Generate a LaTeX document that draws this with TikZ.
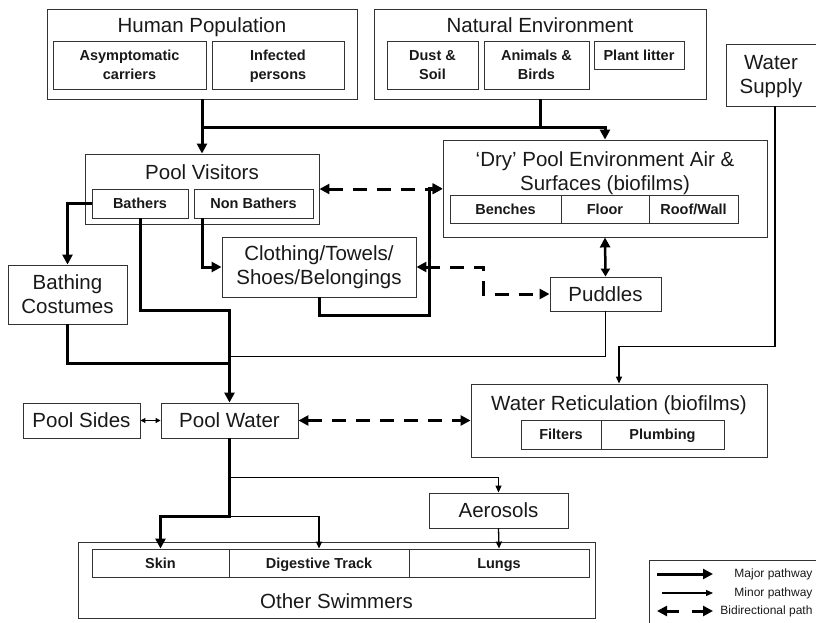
\documentclass[tikz,border=0pt]{standalone}
\usepackage{fontspec}
\setmainfont{Liberation Sans}
\usetikzlibrary{arrows.meta}

\tikzset{
  box/.style={draw=black!80, line width=0.9pt, inner sep=0pt},
  big/.style={font=\fontsize{20.5}{24}\selectfont, align=center, text=black!90},
  small/.style={font=\fontsize{14.5}{19}\selectfont\bfseries, align=center, text=black!90},
  oneline/.style={text height=11.5pt, text depth=1pt},
  bigline/.style={text height=16pt, text depth=1.3pt},
  note/.style={font=\fontsize{12}{14}\selectfont, text=black!90},
  major/.style={line width=3pt, -{Triangle[length=10pt,width=10pt]}},
  minor/.style={line width=1.3pt, -{Triangle[length=7pt,width=6pt]}},
  bidir/.style={line width=3pt, dash pattern=on 14pt off 10pt,
    {Triangle[length=10pt,width=10pt]}-{Triangle[length=10pt,width=10pt]}},
  joinline/.style={line width=3pt},
  thinline/.style={line width=1.3pt},
}

\begin{document}
\begin{tikzpicture}[x=1pt, y=-1pt]
    \useasboundingbox (0,0) rectangle (816,623);

    % Human population
    \node[box, minimum width=310pt, minimum height=90pt] (hp) at (202,54) {};
    \node[big, anchor=base] (hptitle) at (202,33) {Human Population};
    \node[box, small, minimum width=153pt, minimum height=48pt] (asym) at (129.5,65) {Asymptomatic\\carriers};
    \node[box, small, text depth=0.2pt, minimum width=132pt, minimum height=48pt] (infected) at (278,65) {Infected\\persons};

    % Natural environment
    \node[box, minimum width=332pt, minimum height=90pt] (ne) at (540,54) {};
    \node[big, anchor=base] (netitle) at (540,33) {Natural Environment};
    \node[box, small, minimum width=91pt, minimum height=48pt] (dust) at (432.5,65) {Dust \&\\Soil};
    \node[box, small, minimum width=105pt, minimum height=48pt] (animals) at (536.5,65) {Animals \&\\Birds};
    \node[box, small, oneline, minimum width=90pt, minimum height=28pt] (plant) at (639,55) {Plant litter};

    % Water supply
    \node[box, minimum width=92pt, minimum height=62pt] (ws) at (772,75) {};
    \node[big, text depth=0.3pt] (wstext) at (771,75) {Water\\Supply};

    % Pool visitors
    \node[box, minimum width=234pt, minimum height=70pt] (pv) at (202,189) {};
    \node[big, anchor=base] (pvtitle) at (202,179) {Pool Visitors};
    \node[box, small, oneline, minimum width=96pt, minimum height=29pt] (bath) at (140,203.5) {Bathers};
    \node[box, small, oneline, minimum width=119pt, minimum height=29pt] (nonb) at (253.5,203.5) {Non Bathers};

    % Dry pool environment
    \node[box, minimum width=324pt, minimum height=97pt] (dry) at (605,188.5) {};
    \node[big, anchor=base] (drytitle) at (605,166) {`Dry' Pool Environment Air \&};
    \node[big, anchor=base] (drytitleb) at (605,190) {Surfaces (biofilms)};
    \node[box, small, oneline, minimum width=111pt, minimum height=28pt] (benches) at (505.5,209) {Benches};
    \node[box, small, oneline, minimum width=88pt, minimum height=28pt] (floor) at (605,209) {Floor};
    \node[box, small, oneline, minimum width=89pt, minimum height=28pt] (roof) at (693.5,209) {Roof/Wall};

    % Middle boxes
    \node[box, big, minimum width=194pt, minimum height=60pt] (cloth) at (319,267) {Clothing/Towels/\\Shoes/Belongings};
    \node[box, big, minimum width=119pt, minimum height=59pt] (cost) at (67.5,294.5) {Bathing\\Costumes};
    \node[box, big, bigline, minimum width=111pt, minimum height=34pt] (pud) at (605.5,294) {Puddles};
    \node[box, big, bigline, minimum width=117pt, minimum height=35pt] (sides) at (81.5,420.5) {Pool Sides};
    \node[box, big, bigline, minimum width=137pt, minimum height=35pt] (pw) at (229.5,420.5) {Pool Water};

    % Water reticulation
    \node[box, minimum width=296pt, minimum height=73pt] (wr) at (619,420.5) {};
    \node[big, anchor=base] (wrtitle) at (619,410) {Water Reticulation (biofilms)};
    \node[box, small, oneline, minimum width=80pt, minimum height=29pt] (filt) at (561,434.5) {Filters};
    \node[box, small, oneline, minimum width=123pt, minimum height=29pt] (plumb) at (662.5,434.5) {Plumbing};

    % Aerosols and other swimmers
    \node[box, big, bigline, minimum width=139pt, minimum height=35pt] (aer) at (498.5,510.5) {Aerosols};
    \node[box, minimum width=517pt, minimum height=76pt] (os) at (336.5,580) {};
    \node[big, anchor=base] (ostitle) at (336.5,608) {Other Swimmers};
    \node[box, small, oneline, minimum width=137pt, minimum height=28pt] (skin) at (160.5,563) {Skin};
    \node[box, small, oneline, minimum width=180pt, minimum height=28pt] (dig) at (319,563) {Digestive Track};
    \node[box, small, oneline, minimum width=180pt, minimum height=28pt] (lungs) at (499,563) {Lungs};

    % Sources to pool visitors and dry environment
    \draw[major] (hp.south) -- (pv.north);
    \draw[major] (ne.south) -- ++(0,28) coordinate (nejoin) -| (dry.north);
    \draw[joinline] (hp.south |- nejoin) -- (nejoin);
    \draw[bidir] (pv.east) -- (pv.east -| dry.west);

    % Pool visitors down
    \draw[major] (bath.west) -| (cost.north);
    \draw[major] (bath.south) -- ++(0,92) -| (pw.north);
    \draw[major] (pv.north |- nonb.south) |- (cloth.west);
    \draw[major] (cloth.south) -- ++(0,18) -| ([xshift=-13pt]dry.west) -- (dry.west);
    \draw[joinline] (cost.south) |- ([yshift=39pt]pw.north);
    \draw[thinline] (pud.south) |- ([yshift=46pt]pw.north);

    % Puddles
    \draw[line width=2.5pt, {Triangle[length=10pt,width=10pt]}-{Triangle[length=8pt,width=9pt]}] (dry.south) -- (pud.north);
    \draw[bidir] (cloth.east) -- ++(67,0) |- (pud.west);

    % Water supply
    \draw[minor] ([xshift=3pt]ws.south) |- ([yshift=37pt]wr.north) -- (wr.north);

    % Pool water
    \draw[line width=1pt, {Triangle[length=5pt,width=5pt]}-{Triangle[length=5pt,width=5pt]}] (sides.east) -- (pw.west);
    \draw[bidir] (pw.east) -- (wr.west);
    \draw[major] (pw.south) -- ++(0,78) -| (skin.north);
    \draw[minor] ([yshift=-78pt]pw.south) -| (dig.north);
    \draw[minor] ([yshift=-39pt]pw.south) -| (aer.north);
    \draw[minor] (aer.south) -- (lungs.north);

    % Legend
    \node[box, anchor=north west, minimum width=172pt, minimum height=68pt] (legend) at (649,560) {};
    \coordinate (ma) at (657,574);
    \coordinate (mb) at (713,574);
    \coordinate (mia) at (662,593);
    \coordinate (mib) at (713,593);
    \coordinate (ba) at (657,611);
    \coordinate (bb) at (713,611);
    \draw[major] (ma) -- (mb);
    \draw[minor] (mia) -- (mib);
    \draw[bidir, dash pattern=on 13pt off 13pt] (ba) -- (bb);
    \node[note, anchor=base east] (lmajor) at (816,577) {Major pathway};
    \node[note, anchor=base east] (lminor) at (816,596) {Minor pathway};
    \node[note, anchor=base east] (lbidir) at (816,614) {Bidirectional path};
\end{tikzpicture}
\end{document}
